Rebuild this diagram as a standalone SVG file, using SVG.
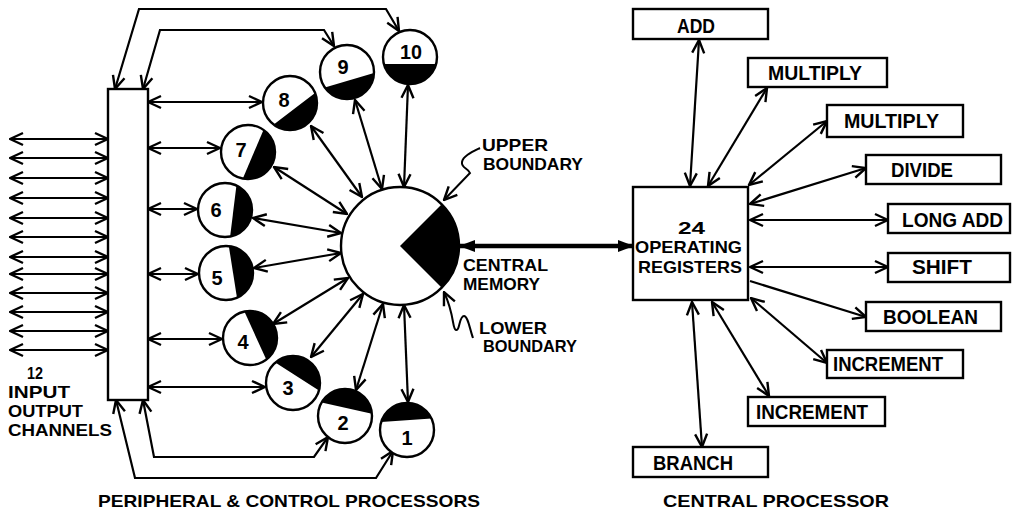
<svg xmlns="http://www.w3.org/2000/svg" width="1018" height="514" viewBox="0 0 1018 514">
<style>
  .ln { stroke:#000; stroke-width:2.2; fill:none; marker-start:url(#ah); marker-end:url(#ah); }
  .ln1 { stroke:#000; stroke-width:2.2; fill:none; marker-end:url(#ah); }
  .box { fill:#fff; stroke:#000; stroke-width:2.4; }
  .pp { fill:#fff; stroke:#000; stroke-width:2.4; }
  .blk { fill:#000; stroke:none; }
  .t { font-family:"Liberation Sans", Arial, sans-serif; font-weight:bold; font-size:20px; fill:#000; }
  .s { font-family:"Liberation Sans", Arial, sans-serif; font-weight:bold; font-size:16.5px; fill:#000; }
  .n { font-family:"Liberation Sans", Arial, sans-serif; font-weight:bold; font-size:20px; fill:#000; text-anchor:middle; }
  .cap { font-family:"Liberation Sans", Arial, sans-serif; font-weight:bold; font-size:17px; fill:#000; }
  .lead { stroke:#000; stroke-width:2; fill:none; marker-end:url(#ah); }
</style>
<defs>
  <marker id="ah" markerUnits="userSpaceOnUse" markerWidth="16" markerHeight="16" viewBox="0 0 16 16" refX="15" refY="8" orient="auto-start-reverse">
    <path d="M2,2 L15,8 L2,14" stroke="#000" stroke-width="2.4" fill="none"/>
  </marker>
  <marker id="big" markerUnits="userSpaceOnUse" markerWidth="16" markerHeight="14" viewBox="0 0 16 14" refX="15" refY="7" orient="auto-start-reverse">
    <path d="M0,1 L16,7 L0,13 Z" fill="#000"/>
  </marker>
</defs>

<g id="connectors">
  <!-- I/O channels -->
  <line class="ln" x1="10" y1="139" x2="108" y2="139"/>
  <line class="ln" x1="10" y1="158" x2="108" y2="158"/>
  <line class="ln" x1="10" y1="178" x2="108" y2="178"/>
  <line class="ln" x1="10" y1="198" x2="108" y2="198"/>
  <line class="ln" x1="10" y1="218" x2="108" y2="218"/>
  <line class="ln" x1="10" y1="237" x2="108" y2="237"/>
  <line class="ln" x1="10" y1="257" x2="108" y2="257"/>
  <line class="ln" x1="10" y1="274" x2="108" y2="274"/>
  <line class="ln" x1="10" y1="293" x2="108" y2="293"/>
  <line class="ln" x1="10" y1="312" x2="108" y2="312"/>
  <line class="ln" x1="10" y1="331" x2="108" y2="331"/>
  <line class="ln" x1="10" y1="350" x2="108" y2="350"/>
  <!-- bar to PPs -->
  <line class="ln" x1="148" y1="102" x2="262" y2="102"/>
  <line class="ln" x1="148" y1="148" x2="220" y2="148"/>
  <line class="ln" x1="148" y1="209" x2="197" y2="209"/>
  <line class="ln" x1="148" y1="274" x2="198" y2="274"/>
  <line class="ln" x1="148" y1="339" x2="222" y2="339"/>
  <line class="ln" x1="148" y1="387" x2="265" y2="387"/>
  <!-- loops -->
  <polyline class="ln" points="115,89 139,9 386,9 399,31"/>
  <polyline class="ln" points="143,89 160,30 324,30 334,46"/>
  <polyline class="ln" points="143,400 154,457 314,457 328,437"/>
  <polyline class="ln" points="116,400 135,478 376,478 393,451"/>
  <!-- memory to PPs -->
  <line class="ln" x1="408" y1="85" x2="404" y2="187"/>
  <line class="ln" x1="355" y1="100" x2="382" y2="189"/>
  <line class="ln" x1="311" y1="126" x2="362" y2="197"/>
  <line class="ln" x1="274" y1="167" x2="347" y2="214"/>
  <line class="ln" x1="253" y1="218" x2="341" y2="233"/>
  <line class="ln" x1="254" y1="268" x2="341" y2="253"/>
  <line class="ln" x1="273" y1="324" x2="348" y2="278"/>
  <line class="ln" x1="311" y1="357" x2="363" y2="294"/>
  <line class="ln" x1="356" y1="390" x2="383" y2="304"/>
  <line class="ln" x1="408" y1="402" x2="404" y2="305"/>
  <!-- memory to registers -->
  <line x1="460" y1="246" x2="633" y2="246" stroke="#000" stroke-width="4.5" marker-start="url(#big)" marker-end="url(#big)"/>
  <!-- registers to units -->
  <line class="ln" x1="699" y1="40" x2="690" y2="186"/>
  <line class="ln" x1="767" y1="88" x2="708" y2="186"/>
  <line class="ln" x1="827" y1="121" x2="749" y2="185"/>
  <line class="ln" x1="866" y1="168" x2="750" y2="204"/>
  <line class="ln" x1="750" y1="220" x2="888" y2="220"/>
  <line class="ln" x1="750" y1="267" x2="888" y2="267"/>
  <line class="ln1" x1="750" y1="281" x2="866" y2="317"/>
  <line class="ln" x1="751" y1="298" x2="827" y2="363"/>
  <line class="ln" x1="712" y1="302" x2="769" y2="396"/>
  <line class="ln" x1="692" y1="302" x2="702" y2="447"/>
  <!-- boundary leaders -->
  <path class="lead" d="M480,148 C472,152 463,156 462,162 C461,168 468,168 470,173 L444,200"/>
  <path class="lead" d="M473,338 C470,330 468,316 464,316 C459,316 460,331 456,330 C452,329 455,316 444,292"/>
</g>

<g id="io-bar"><rect class="box" x="108" y="89" width="40" height="311"/></g>

<g id="central-memory">
  <circle class="pp" cx="400" cy="246" r="59"/>
  <path class="blk" d="M400,246 L441.72,204.28 A59,59 0 0 1 441.72,287.72 Z"/>
</g>

<g id="pp10"><circle class="pp" cx="410" cy="57" r="27"/><path class="blk" d="M436.08,63.99 A27,27 0 0 1 383.92,63.99 Z"/><text class="n" x="411" y="59" textLength="22" lengthAdjust="spacingAndGlyphs">10</text></g>
<g id="pp9"><circle class="pp" cx="347" cy="72" r="27"/><path class="blk" d="M373.98,72.94 A27,27 0 0 1 324.88,87.49 Z"/><text class="n" x="343" y="74">9</text></g>
<g id="pp8"><circle class="pp" cx="290" cy="103" r="27"/><path class="blk" d="M315.03,92.89 A27,27 0 0 1 273.75,124.56 Z"/><text class="n" x="284" y="107">8</text></g>
<g id="pp7"><circle class="pp" cx="248" cy="152" r="27"/><path class="blk" d="M263.49,129.88 A27,27 0 0 1 242.85,178.5 Z"/><text class="n" x="241" y="157">7</text></g>
<g id="pp6"><circle class="pp" cx="225" cy="210" r="27"/><path class="blk" d="M236.41,185.53 A27,27 0 0 1 230.15,236.5 Z"/><text class="n" x="216" y="217">6</text></g>
<g id="pp5"><circle class="pp" cx="226" cy="273" r="27"/><path class="blk" d="M228.82,246.15 A27,27 0 0 1 236.98,297.67 Z"/><text class="n" x="217" y="285">5</text></g>
<g id="pp4"><circle class="pp" cx="250" cy="338" r="27"/><path class="blk" d="M244.39,311.59 A27,27 0 0 1 266.25,359.56 Z"/><text class="n" x="243" y="349">4</text></g>
<g id="pp3"><circle class="pp" cx="293" cy="383" r="27"/><path class="blk" d="M275.29,362.62 A27,27 0 0 1 318.95,390.44 Z"/><text class="n" x="288" y="395">3</text></g>
<g id="pp2"><circle class="pp" cx="345" cy="416" r="27"/><path class="blk" d="M321.62,402.5 A27,27 0 0 1 371.9,413.65 Z"/><text class="n" x="343" y="430">2</text></g>
<g id="pp1"><circle class="pp" cx="407" cy="430" r="27"/><path class="blk" d="M381.18,422.11 A27,27 0 0 1 431.47,418.59 Z"/><text class="n" x="407" y="445">1</text></g>

<g id="registers"><rect class="box" x="633" y="187" width="115" height="113"/>
  <text class="s" x="678" y="234" textLength="27" lengthAdjust="spacingAndGlyphs">24</text>
  <text class="s" x="635" y="253" textLength="107" lengthAdjust="spacingAndGlyphs">OPERATING</text>
  <text class="s" x="638" y="273" textLength="104" lengthAdjust="spacingAndGlyphs">REGISTERS</text>
</g>
<g id="add"><rect class="box" x="633" y="9" width="135" height="30"/><text class="t" x="677" y="33" textLength="38" lengthAdjust="spacingAndGlyphs">ADD</text></g>
<g id="multiply1"><rect class="box" x="748" y="58" width="139" height="29"/><text class="t" x="768" y="80" textLength="94" lengthAdjust="spacingAndGlyphs">MULTIPLY</text></g>
<g id="multiply2"><rect class="box" x="827" y="105" width="136" height="32"/><text class="t" x="844" y="128" textLength="95" lengthAdjust="spacingAndGlyphs">MULTIPLY</text></g>
<g id="divide"><rect class="box" x="866" y="155" width="135" height="29"/><text class="t" x="891" y="177" textLength="62" lengthAdjust="spacingAndGlyphs">DIVIDE</text></g>
<g id="longadd"><rect class="box" x="888" y="204" width="122" height="29"/><text class="t" x="902" y="227" textLength="101" lengthAdjust="spacingAndGlyphs">LONG ADD</text></g>
<g id="shift"><rect class="box" x="888" y="253" width="122" height="29"/><text class="t" x="912" y="274" textLength="60" lengthAdjust="spacingAndGlyphs">SHIFT</text></g>
<g id="boolean"><rect class="box" x="866" y="302" width="135" height="29"/><text class="t" x="883" y="324" textLength="95" lengthAdjust="spacingAndGlyphs">BOOLEAN</text></g>
<g id="increment1"><rect class="box" x="827" y="350" width="136" height="28"/><text class="t" x="833" y="371" textLength="110" lengthAdjust="spacingAndGlyphs">INCREMENT</text></g>
<g id="increment2"><rect class="box" x="748" y="397" width="137" height="29"/><text class="t" x="756" y="419" textLength="112" lengthAdjust="spacingAndGlyphs">INCREMENT</text></g>
<g id="branch"><rect class="box" x="633" y="447" width="135" height="30"/><text class="t" x="653" y="470" textLength="80" lengthAdjust="spacingAndGlyphs">BRANCH</text></g>

<g id="labels">
  <text class="s" x="482" y="151" textLength="66" lengthAdjust="spacingAndGlyphs">UPPER</text>
  <text class="s" x="483" y="170" textLength="100" lengthAdjust="spacingAndGlyphs">BOUNDARY</text>
  <text class="s" x="463" y="271" textLength="85" lengthAdjust="spacingAndGlyphs">CENTRAL</text>
  <text class="s" x="463" y="290" textLength="77" lengthAdjust="spacingAndGlyphs">MEMORY</text>
  <text class="s" x="479" y="334" textLength="68" lengthAdjust="spacingAndGlyphs">LOWER</text>
  <text class="s" x="483" y="352" textLength="94" lengthAdjust="spacingAndGlyphs">BOUNDARY</text>
  <text class="s" x="27" y="379" textLength="16" lengthAdjust="spacingAndGlyphs">12</text>
  <text class="s" x="8" y="398" textLength="62" lengthAdjust="spacingAndGlyphs">INPUT</text>
  <text class="s" x="8" y="417" textLength="75" lengthAdjust="spacingAndGlyphs">OUTPUT</text>
  <text class="s" x="8" y="436" textLength="104" lengthAdjust="spacingAndGlyphs">CHANNELS</text>
  <text class="cap" x="98" y="507" textLength="382" lengthAdjust="spacingAndGlyphs">PERIPHERAL &amp; CONTROL PROCESSORS</text>
  <text class="cap" x="663" y="507" textLength="226" lengthAdjust="spacingAndGlyphs">CENTRAL PROCESSOR</text>
</g>
</svg>
